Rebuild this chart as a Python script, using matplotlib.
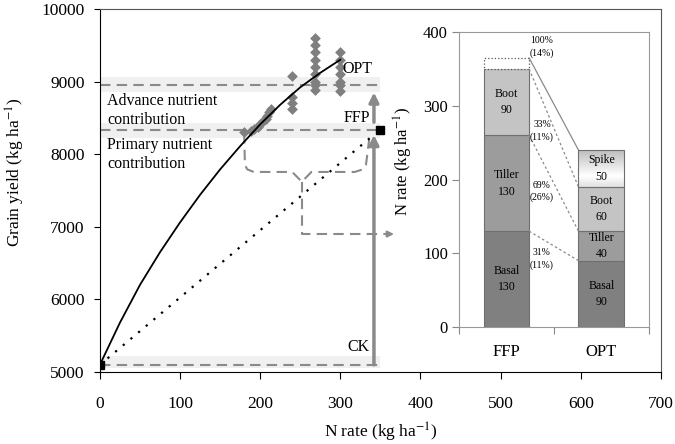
import numpy as np
import matplotlib.pyplot as plt

plt.rcParams['font.family'] = ['Liberation Serif', 'DejaVu Serif']
plt.rcParams['mathtext.fontset'] = 'stix'

# response curve (solid line, OPT)
curve_n = [0, 25, 50, 75, 100, 125, 150, 175, 200, 225, 250, 275, 300]
curve_y = [5100, 5680, 6200, 6650, 7060, 7440, 7790, 8110, 8410, 8680, 8920, 9120, 9300]

# observed yields (diamonds)
obs_n = [180, 188, 192, 197, 200, 203, 207, 209, 211, 213,
         240, 240, 240, 240,
         268, 268, 268, 268, 268, 268, 268, 268, 268,
         300, 300, 300, 300, 300, 300, 300]
obs_y = [8300, 8320, 8350, 8380, 8420, 8450, 8480, 8530, 8580, 8620,
         9080, 8780, 8700, 8620,
         9600, 9500, 9400, 9300, 9200, 9100, 9000, 8950, 8880,
         9400, 9300, 9200, 9100, 9000, 8950, 8870]

# treatments
ck_n, ck_y = 0, 5100
ffp_n, ffp_y = 350, 8330
opt_y = 8950
linear_n = [0, 340]
linear_y = [5100, 8250]

# dashed brace and arrow below the primary contribution
brace_n = [180, 181, 184, 192, 240, 252, 264, 318, 328, 332, 336]
brace_y = [8290, 7850, 7790, 7755, 7755, 7620, 7755, 7755, 7790, 7850, 8200]
stem_n = [252, 252, 360]
stem_y = [7620, 6900, 6900]

# inset: N split-application (kg/ha)
groups = ['FFP', 'OPT']
basal = [130, 90]
tiller = [130, 40]
boot = [90, 60]
spike = [0, 50]
ffp_extra = 15
pct_labels = ['100%\n(14%)', '33%\n(11%)', '69%\n(26%)', '31%\n(11%)']
pct_y = [380, 266, 184, 92]

fig = plt.figure(figsize=(6.75, 4.44), dpi=100)
ax = fig.add_axes([0.148, 0.162, 0.831, 0.818])

gray = '#8a8a8a'
ax.fill_between([0, 350], 8860, 9060, color='#f0f0f0', lw=0, zorder=0)
ax.fill_between([0, 350], 8220, 8430, color='#f0f0f0', lw=0, zorder=0)
ax.fill_between([0, 350], 5055, 5220, color='#f0f0f0', lw=0, zorder=0)
for yy in [opt_y, ffp_y, ck_y]:
    ax.plot([0, 350], [yy, yy], ls=(0, (5, 3)), color=gray, lw=1.5, zorder=1)

ax.plot(curve_n, curve_y, color='black', lw=1.3, zorder=4)
ax.plot(linear_n, linear_y, color='black', lw=1.6, ls=(0, (1, 3.5)), zorder=4)
ax.scatter(obs_n, obs_y, marker='D', s=30, color='#7f7f7f', zorder=3, lw=0)
ax.plot([ck_n, ffp_n], [ck_y, ffp_y], ls='none', marker='s', ms=6,
        color='black', zorder=5)

ax.plot(brace_n, brace_y, ls=(0, (5, 3)), color=gray, lw=1.5, zorder=2)
ax.plot(stem_n, stem_y, ls=(0, (5, 3)), color=gray, lw=1.5, zorder=2)
ax.annotate('', xy=(367, 6900), xytext=(357, 6900),
            arrowprops=dict(arrowstyle='-|>', color=gray, lw=1.5,
                            mutation_scale=9, shrinkA=0, shrinkB=0))

ax.annotate('', xy=(342, 8265), xytext=(342, 5100),
            arrowprops=dict(arrowstyle='-|>', color=gray, lw=2.5,
                            mutation_scale=14, shrinkA=0, shrinkB=0))
ax.annotate('', xy=(342, 8850), xytext=(342, 8440),
            arrowprops=dict(arrowstyle='-|>', color=gray, lw=2.5,
                            mutation_scale=14, shrinkA=0, shrinkB=0))

ax.text(302, 9170, 'OPT', fontsize=11.5, va='center', ha='left')
ax.text(337, 8500, 'FFP', fontsize=11.5, va='center', ha='right')
ax.text(337, 5345, 'CK', fontsize=11.5, va='center', ha='right')
ax.text(9, 8600, 'Advance nutrient\ncontribution', fontsize=11.5,
        va='center', ha='left', linespacing=1.25)
ax.text(9, 7990, 'Primary nutrient\ncontribution', fontsize=11.5,
        va='center', ha='left', linespacing=1.25)

ax.set_xlim(0, 700)
ax.set_ylim(5000, 10000)
ax.set_xticks(range(0, 701, 100))
ax.set_yticks(range(5000, 10001, 1000))
ax.tick_params(axis='x', direction='out', length=5, pad=12, labelsize=12.5)
ax.tick_params(axis='y', direction='out', length=4, pad=7, labelsize=12.5)
ax.set_xlabel('N rate (kg ha$^{-1}$)', fontsize=12.5)
ax.set_ylabel('Grain yield (kg ha$^{-1}$)', fontsize=12.5)
ax.xaxis.set_label_coords(0.5, -0.135)
ax.yaxis.set_label_coords(-0.13, 0.55)
for s in ['top', 'right']:
    ax.spines[s].set_color('#555555')

# inset
ax2 = fig.add_axes([0.680, 0.2635, 0.281, 0.664])
x = np.array([0.5, 1.5])
w = 0.48
edge = '#6f6f6f'
ax2.bar(x, basal, w, color='#808080', edgecolor=edge, lw=0.8)
ax2.bar(x, tiller, w, bottom=basal, color='#9c9c9c', edgecolor=edge, lw=0.8)
bot3 = np.array(basal) + np.array(tiller)
ax2.bar(x, boot, w, bottom=bot3, color='#c4c4c4', edgecolor=edge, lw=0.8)
bot4 = bot3 + np.array(boot)
ax2.bar(x[0], ffp_extra, w, bottom=bot4[0], facecolor='white',
        edgecolor='#555555', lw=0.9, ls=':')
sp = ax2.bar(x[1], spike[1], w, bottom=bot4[1], facecolor='none',
             edgecolor=edge, lw=0.8, zorder=3)
grad = np.concatenate([np.linspace(0.88, 1.0, 30), np.linspace(1.0, 0.74, 70)])
grad = grad.reshape(-1, 1)
im = ax2.imshow(grad, cmap='gray', vmin=0, vmax=1, aspect='auto',
                extent=[x[1] - w / 2, x[1] + w / 2, bot4[1] + spike[1], bot4[1]],
                zorder=2)
im.set_clip_path(sp[0])

seg_names = ['Basal', 'Tiller', 'Boot', 'Spike']
vals = [basal, tiller, boot, spike]
bottoms = [np.zeros(2), np.array(basal), bot3, bot4]
for name, v, b in zip(seg_names, vals, bottoms):
    for i in range(2):
        if v[i] > 0:
            ax2.text(x[i], b[i] + v[i] / 2, f'{name}\n{v[i]}', ha='center',
                     va='center', fontsize=8.5, linespacing=1.5)

xr = x[0] + w / 2
xl = x[1] - w / 2
ax2.plot([xr, xl], [bot4[0] + ffp_extra, bot4[1] + spike[1]], color='#8a8a8a', lw=0.9)
ax2.plot([xr, xl], [bot4[0], bot4[1]], color='#8a8a8a', lw=0.9, ls=(0, (2, 2)))
ax2.plot([xr, xl], [bot3[0], bot3[1]], color='#8a8a8a', lw=0.9, ls=(0, (2, 2)))
ax2.plot([xr, xl], [basal[0], basal[1]], color='#8a8a8a', lw=0.9, ls=(0, (2, 2)))
for lab, yy in zip(pct_labels, pct_y):
    ax2.text(0.875, yy, lab, ha='center', va='center', fontsize=7,
             linespacing=1.4)

ax2.set_xlim(0, 2)
ax2.set_ylim(0, 400)
ax2.set_yticks(range(0, 401, 100))
ax2.set_xticks([0, 1, 2])
ax2.set_xticklabels([])
ax2.set_xticks(x, minor=True)
ax2.set_xticklabels(groups, minor=True)
ax2.tick_params(axis='x', which='minor', length=0, pad=12, labelsize=12)
ax2.tick_params(axis='x', which='major', length=5, color='#888888')
ax2.tick_params(axis='y', length=5, pad=3, labelsize=12, color='#888888')
ax2.set_ylabel('N rate (kg ha$^{-1}$)', fontsize=12)
ax2.yaxis.set_label_coords(-0.23, 0.56)
for s in ax2.spines.values():
    s.set_color('#999999')

fig.savefig('out.png', dpi=100)
